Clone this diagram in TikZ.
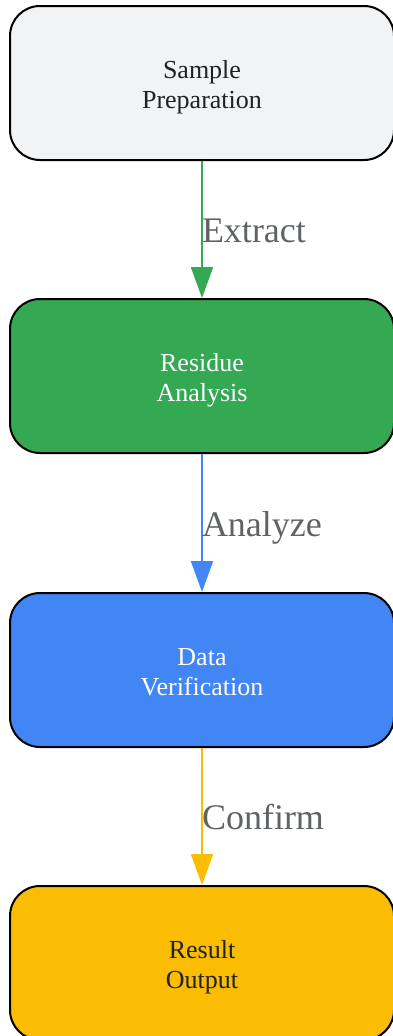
\documentclass[tikz,border=0pt]{standalone}
\usepackage{fontspec}
\setmainfont{Liberation Serif}
\usetikzlibrary{arrows.meta}
\definecolor{boxgray}{HTML}{F1F3F4}
\definecolor{boxgreen}{HTML}{34A853}
\definecolor{boxblue}{HTML}{4285F4}
\definecolor{boxyellow}{HTML}{FBBC04}
\definecolor{textdark}{HTML}{202124}
\definecolor{labelgray}{HTML}{5F6368}
\begin{document}
\begin{tikzpicture}[x=1pt,y=-1pt]
        \tikzstyle{node_style} = [draw=black,line width=2pt,rounded corners=30pt,
          minimum width=384pt,minimum height=154pt,align=center,
          text height=57pt,text depth=6pt,font=\fontsize{26}{30}\selectfont]
        \tikzstyle{edge_style} = [line width=2pt,-{Triangle[width=22pt,length=31pt]}]
        \tikzstyle{label_style} = [anchor=base west,yshift=-13pt,xshift=-1pt,inner sep=0pt,
          text=labelgray,font=\fontsize{36}{40}\selectfont]
        \useasboundingbox (0,0) rectangle (392,1036);
        \node[node_style,fill=boxgray,text=textdark] (v1) at (202,83) {Sample\\Preparation};
        \node[node_style,fill=boxgreen,text=white] (v2) at (202,376) {Residue\\Analysis};
        \node[node_style,fill=boxblue,text=white] (v3) at (202,670) {Data\\Verification};
        \node[node_style,fill=boxyellow,text=textdark] (v4) at (202,963) {Result\\Output};
        \draw[edge_style,draw=boxgreen,fill=boxgreen]  (v1) edge node[label_style] {Extract} (v2);
        \draw[edge_style,draw=boxblue,fill=boxblue]  (v2) edge node[label_style] {Analyze} (v3);
        \draw[edge_style,draw=boxyellow,fill=boxyellow]  (v3) edge node[label_style] {Confirm} (v4);
      \end{tikzpicture}
\end{document}
